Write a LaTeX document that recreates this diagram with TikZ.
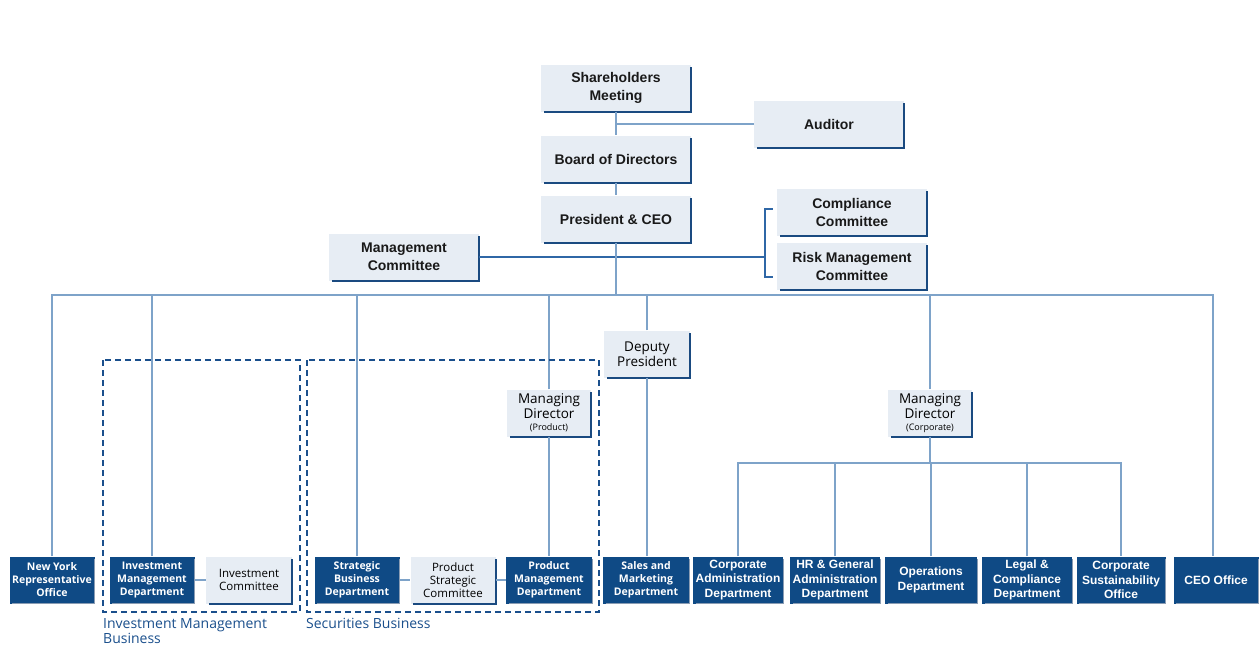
\documentclass[tikz,border=0pt]{standalone}
\usepackage{fontspec}
\setmainfont{Liberation Sans}
\newfontfamily\notofont{Open Sans}
\usetikzlibrary{calc}

\definecolor{navy}{HTML}{0F4A85}
\definecolor{paleblue}{HTML}{E7EDF4}
\definecolor{steel}{HTML}{7EA3C9}
\definecolor{edgeblue}{HTML}{1A4A80}
\definecolor{midblue}{HTML}{2F67A6}
\definecolor{bevel}{HTML}{8A9CB3}
\definecolor{grpblue}{HTML}{1A4F8C}

\tikzset{
  lightbox/.style={fill=paleblue, minimum width=150pt, minimum height=47pt,
    inner sep=1pt, align=center, text=black!90,
    font=\bfseries\fontsize{14}{18}\selectfont},
  midbox/.style={fill=paleblue, minimum height=47pt, inner sep=1pt,
    align=center, text=black, font=\notofont\fontsize{13.5}{15}\selectfont},
  smallbox/.style={fill=paleblue, minimum width=86pt, minimum height=47pt,
    inner sep=1pt, align=center, text=black,
    font=\notofont\fontsize{11.5}{13}\selectfont},
  darkbox/.style={fill=navy, minimum height=47pt, inner sep=0.5pt,
    align=center, text=white, font=\bfseries\fontsize{12}{14.5}\selectfont},
  darknoto/.style={darkbox, font=\notofont\bfseries\fontsize{10.5}{13}\selectfont},
  lightedge/.style={draw=edgeblue, line width=2pt},
  darkedge/.style={draw=bevel, line width=1pt},
  link/.style={draw=steel, line width=1.4pt},
  mlink/.style={draw=midblue, line width=1.2pt},
  grp/.style={draw=grpblue, line width=1.6pt, dash pattern=on 6pt off 4pt},
  grplabel/.style={text=grpblue, align=left, inner sep=0pt,
    font=\notofont\fontsize{14}{15}\selectfont},
}

\begin{document}
\begin{tikzpicture}[x=1pt,y=-1pt]
\useasboundingbox (0,0) rectangle (1260,670);

% top of the chart
\node[lightbox] (share) at (616,88) {Shareholders\\Meeting};
\node[lightbox] (auditor) at (829,124) {Auditor};
\node[lightbox] (board) at (616,159) {Board of Directors};
\node[lightbox] (ceo) at (616,219) {President \& CEO};
\node[lightbox] (comp) at (852,212) {Compliance\\Committee};
\node[lightbox] (risk) at (852,266) {Risk Management\\Committee};
\node[lightbox] (mgmt) at (404,257) {Management\\Committee};

% middle level
\node[midbox, minimum width=86pt] (dep) at (647,354) {Deputy\\President};
\node[midbox, minimum width=84pt] (mdp) at (549,413) {Managing\\Director\\[-3pt]{\fontsize{9}{10}\selectfont(Product)}};
\node[midbox, minimum width=84pt] (mdc) at (930,413) {Managing\\Director\\[-3pt]{\fontsize{9}{10}\selectfont(Corporate)}};

% bottom row
\node[darknoto, minimum width=85pt] (ny) at (52,580) {New York\\Representative\\Office};
\node[darknoto, minimum width=85pt] (imd) at (152,580) {Investment\\Management\\Department};
\node[smallbox] (ic) at (249,580) {Investment\\Committee};
\node[darknoto, minimum width=85pt] (sbd) at (357,580) {Strategic\\Business\\Department};
\node[smallbox, minimum width=85pt] (psc) at (453,580) {Product\\Strategic\\Committee};
\node[darknoto, minimum width=86pt] (pmd) at (549,580) {Product\\Management\\Department};
\node[darknoto, minimum width=86pt] (sales) at (646,580) {Sales and\\Marketing\\Department};
\node[darkbox, minimum width=90pt] (cad) at (738,580) {Corporate\\Administration\\Department};
\node[darkbox, minimum width=90pt] (hr) at (835,580) {HR \& General\\Administration\\Department};
\node[darkbox, minimum width=92pt] (ops) at (931,580) {Operations\\Department};
\node[darkbox, minimum width=90pt] (legal) at (1027,580) {Legal \&\\Compliance\\Department};
\node[darkbox, minimum width=89pt] (cso) at (1121,580) {Corporate\\Sustainability\\Office};
\node[darkbox, minimum width=85pt] (ceooff) at (1216,580) {CEO Office};

% box edges
\foreach \n in {share,auditor,board,ceo,comp,risk,mgmt,dep,mdp,mdc,ic,psc}
  \draw[lightedge] ([yshift=-3pt]\n.north east) -- (\n.south east) -- ([xshift=3pt]\n.south west);
\foreach \n in {ny,imd,sbd,pmd,sales,cad,hr,ops,legal,cso,ceooff}
  \draw[darkedge] ([yshift=-3pt]\n.north east) -- (\n.south east) -- ([xshift=3pt]\n.south west);

% connectors
\coordinate (bus) at (616,295);
\coordinate (brk) at (765,257);
\coordinate (bus2) at (930,463);
\draw[link] (share) -- (board);
\draw[link] (board) -- (ceo);
\draw[link] (auditor.west -| share.south) -- (auditor.west);
\draw[mlink] (mgmt.east) -- (brk);
\draw[mlink] ([xshift=-4pt,yshift=3pt]comp.west) -| (brk) |- ([xshift=-4pt,yshift=-11pt]risk.west);
\draw[link] (ceo.south) -- (bus);
\draw[link] (ny.north) |- (bus) -| ([xshift=-3pt]ceooff.north);
\foreach \n in {imd,sbd,mdp,dep,mdc}
  \draw[link] (\n.north) -- (\n.north |- bus);
\draw[link] (dep.south) -- (dep.south |- sales.north);
\draw[link] (mdp.south) -- (pmd.north);
\draw[link] (mdc.south) -- (bus2);
\draw[link] (cad.north) |- (bus2) -| (cso.north);
\foreach \n in {hr,ops,legal}
  \draw[link] (\n.north) -- (\n.north |- bus2);
\draw[link] (imd.east) -- (ic.west);
\draw[link] (sbd.east) -- (psc.west);
\draw[link] (psc.east) -- (pmd.west);

% business groups
\draw[grp] (103,360) rectangle (300,612);
\draw[grp] (307,360) rectangle (599,612);
\node[grplabel, anchor=north west] (imb) at (103,618) {Investment Management\\Business};
\node[grplabel, anchor=north west] (secb) at (306,618) {Securities Business};
\end{tikzpicture}
\end{document}
